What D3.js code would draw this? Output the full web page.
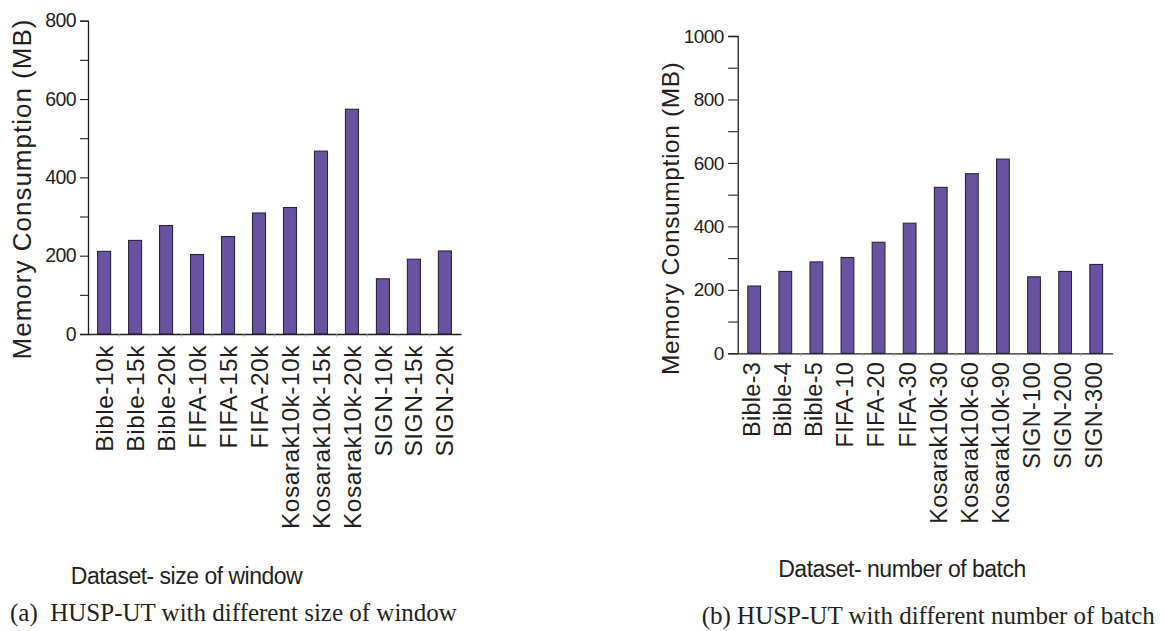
<!DOCTYPE html>
<html>
<head>
<meta charset="utf-8">
<script src="https://cdn.jsdelivr.net/npm/d3@7"></script>
<style>
  html, body { margin: 0; padding: 0; background: #fff; }
  svg { display: block; }
  .sans { font-family: "Liberation Sans", Arial, sans-serif; fill: #231f20; }
  .serif { font-family: "Liberation Serif", "Times New Roman", serif; fill: #231f20; white-space: pre; }
</style>
</head>
<body>
<svg id="chart" width="1167" height="631"></svg>
<script>
// Panel (a): memory per dataset and window size
const windowCategories = ["Bible-10k", "Bible-15k", "Bible-20k", "FIFA-10k", "FIFA-15k", "FIFA-20k",
  "Kosarak10k-10k", "Kosarak10k-15k", "Kosarak10k-20k", "SIGN-10k", "SIGN-15k", "SIGN-20k"];
const windowMemory = [211, 239, 277, 203, 249, 309, 323, 467, 574, 141, 191, 212];
const windowTicks = [0, 200, 400, 600, 800];
const windowMinorTicks = [100, 300, 500, 700];

// Panel (b): memory per dataset and number of batches
const batchCategories = ["Bible-3", "Bible-4", "Bible-5", "FIFA-10", "FIFA-20", "FIFA-30",
  "Kosarak10k-30", "Kosarak10k-60", "Kosarak10k-90", "SIGN-100", "SIGN-200", "SIGN-300"];
const batchMemory = [212, 258, 288, 302, 350, 410, 523, 566, 612, 241, 258, 280];
const batchTicks = [0, 200, 400, 600, 800, 1000];
const batchMinorTicks = [100, 300, 500, 700, 900];

const yTitle = "Memory Consumption (MB)";

const svg = d3.select("#chart");
const BAR_FILL = "#6a52a2";
const BAR_STROKE = "#2a2440";
const AXIS = "#231f20";

function drawPanel(p) {
  const g = svg.append("g");
  const x = d3.scaleBand()
    .domain(p.categories)
    .range([p.left, p.right])
    .paddingInner(p.padInner)
    .paddingOuter(p.padOuter)
    .align(0.5);
  const y = d3.scaleLinear().domain([0, p.max]).range([p.bottom, p.top]);

  // bars
  g.append("g").selectAll("rect")
    .data(p.values)
    .join("rect")
    .attr("x", (d, i) => x(p.categories[i]))
    .attr("y", d => y(d))
    .attr("width", x.bandwidth())
    .attr("height", d => y(0) - y(d))
    .attr("fill", BAR_FILL)
    .attr("stroke", BAR_STROKE)
    .attr("stroke-width", 1.1);

  // y axis with major labels
  const yAxis = g.append("g")
    .attr("transform", `translate(${p.left},0)`)
    .call(d3.axisLeft(y).tickValues(p.ticks).tickSize(p.tickLen).tickPadding(p.tickPad).tickFormat(d3.format("d")));
  yAxis.select(".domain").attr("stroke", AXIS).attr("stroke-width", 1.3);
  yAxis.selectAll(".tick line").attr("stroke", AXIS).attr("stroke-width", 1.1);
  yAxis.selectAll(".tick text")
    .attr("class", "sans")
    .style("font-size", p.tickFont + "px")
    .style("letter-spacing", "-0.6px")
    .attr("fill", AXIS);

  // y minor ticks
  const yMinor = g.append("g")
    .attr("transform", `translate(${p.left},0)`)
    .call(d3.axisLeft(y).tickValues(p.minor).tickSize(p.tickLen).tickFormat(""));
  yMinor.select(".domain").remove();
  yMinor.selectAll(".tick line").attr("stroke", AXIS).attr("stroke-width", 1.1);

  // x axis with rotated category labels
  const xAxis = g.append("g")
    .attr("transform", `translate(0,${p.bottom})`)
    .call(d3.axisBottom(x).tickSize(0).tickSizeOuter(0));
  xAxis.select(".domain").attr("stroke", AXIS).attr("stroke-width", 1.3);
  xAxis.selectAll(".tick text")
    .attr("class", "sans")
    .attr("transform", "rotate(-90)")
    .attr("text-anchor", "end")
    .attr("x", -p.labelGap)
    .attr("y", 0)
    .attr("dy", p.labelDy)
    .style("font-size", p.catFont + "px")
    .style("letter-spacing", p.catSpacing + "px")
    .attr("fill", AXIS);

  // small separators between categories on the baseline
  const step = x.step();
  g.append("g").selectAll("line")
    .data(p.categories.slice(1))
    .join("line")
    .attr("x1", d => x(d) - (step - x.bandwidth()) / 2)
    .attr("x2", d => x(d) - (step - x.bandwidth()) / 2)
    .attr("y1", p.bottom)
    .attr("y2", p.bottom + 2.5)
    .attr("stroke", "#9a9a9a")
    .attr("stroke-width", 1);

  // axis titles
  g.append("text")
    .attr("class", "sans")
    .attr("transform", `translate(${p.yTitleX},${p.yTitleY}) rotate(-90)`)
    .attr("text-anchor", "middle")
    .style("font-size", p.yTitleFont + "px")
    .style("letter-spacing", p.yTitleSpacing + "px")
    .text(yTitle);

  g.append("text")
    .attr("class", "sans")
    .attr("x", p.xTitleX)
    .attr("y", p.xTitleY)
    .attr("text-anchor", "middle")
    .style("font-size", "23px")
    .style("letter-spacing", "-0.5px")
    .text(p.xTitle);

  // panel caption
  g.append("text")
    .attr("class", "serif")
    .attr("x", p.captionX)
    .attr("y", p.captionY)
    .style("font-size", "25px")
    .text(p.caption);
}

drawPanel({
  categories: windowCategories, values: windowMemory, ticks: windowTicks, minor: windowMinorTicks, max: 800,
  left: 88, right: 461, top: 20.7, bottom: 334, padInner: 0.58, padOuter: 0.31,
  tickLen: 8, tickPad: 4, tickFont: 19.5,
  labelGap: 11, labelDy: "0.35em", catFont: 24.5, catSpacing: 0.5,
  yTitleX: 31, yTitleY: 189, yTitleFont: 26, yTitleSpacing: 1,
  xTitle: "Dataset- size of window", xTitleX: 186.5, xTitleY: 584,
  caption: "(a)  HUSP-UT with different size of window", captionX: 10, captionY: 620.5
});

drawPanel({
  categories: batchCategories, values: batchMemory, ticks: batchTicks, minor: batchMinorTicks, max: 1000,
  left: 737.7, right: 1112.7, top: 36, bottom: 353.3, padInner: 0.59, padOuter: 0.325,
  tickLen: 9.5, tickPad: 4.5, tickFont: 19,
  labelGap: 8.5, labelDy: "0.25em", catFont: 23.5, catSpacing: 0.3,
  yTitleX: 678.5, yTitleY: 218.3, yTitleFont: 24.5, yTitleSpacing: 0.6,
  xTitle: "Dataset- number of batch", xTitleX: 902, xTitleY: 577,
  caption: "(b) HUSP-UT with different number of batch", captionX: 701.7, captionY: 624
});
</script>
</body>
</html>
